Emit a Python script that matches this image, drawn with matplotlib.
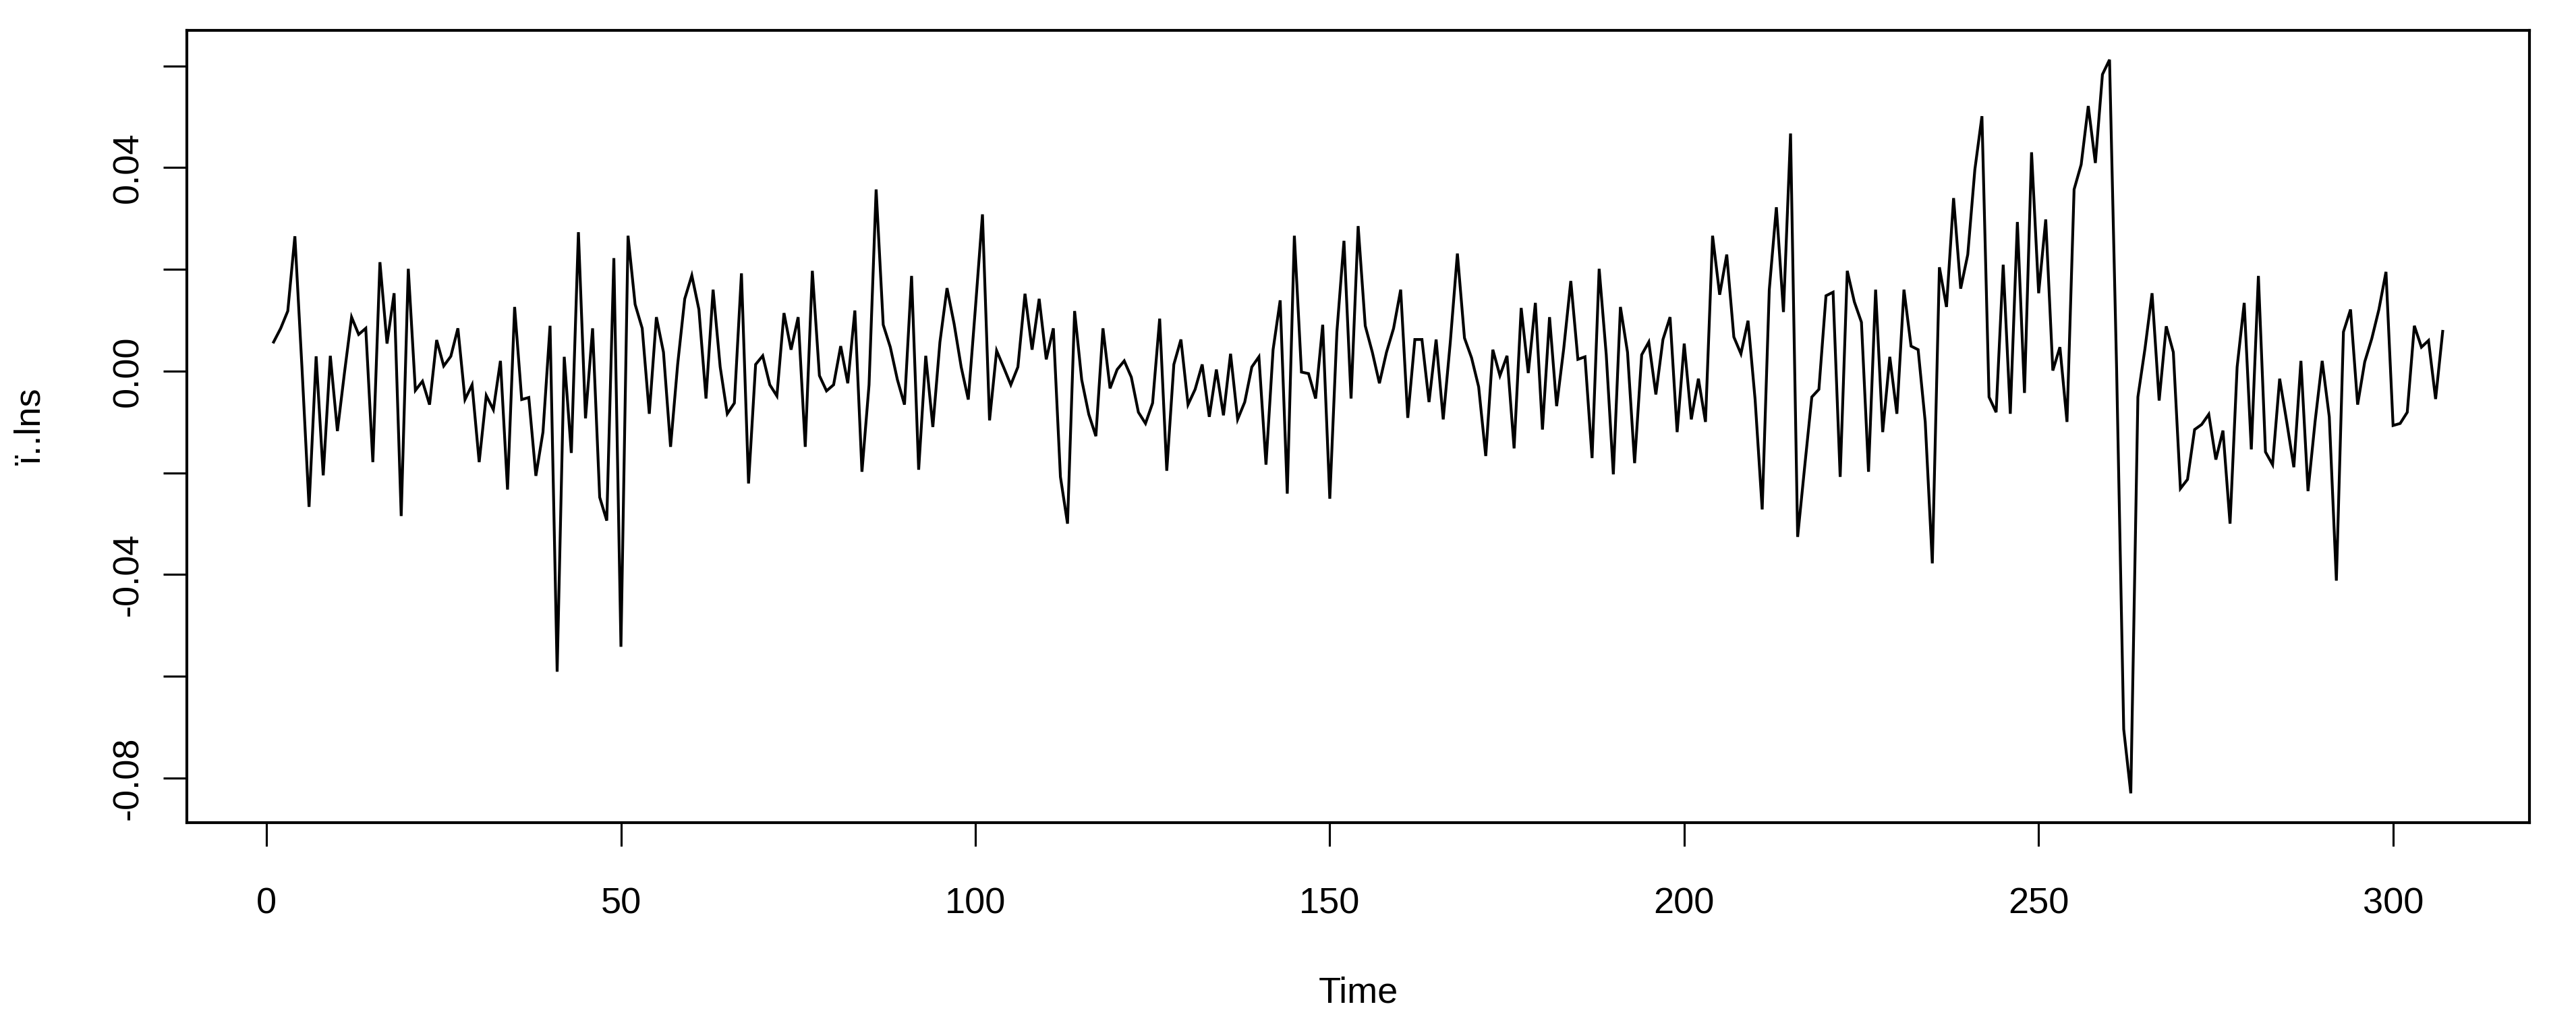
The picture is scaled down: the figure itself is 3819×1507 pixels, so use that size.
import matplotlib
matplotlib.use("Agg")
import matplotlib.pyplot as plt
from matplotlib.ticker import FixedLocator, FixedFormatter
import numpy as np

plt.rcParams['font.family'] = ['Liberation Sans', 'DejaVu Sans']
plt.rcParams['axes.unicode_minus'] = False

# Series values (time 1..307)
vals_001_030 = [0.0057, 0.0084, 0.0118, 0.0265, 0.0007, -0.0267, 0.0029, -0.0205, 0.0030, -0.0118,
                -0.0003, 0.0106, 0.0072, 0.0084, -0.0179, 0.0214, 0.0054, 0.0153, -0.0285, 0.0201,
                -0.0038, -0.0020, -0.0066, 0.0061, 0.0010, 0.0029, 0.0084, -0.0056, -0.0027, -0.0179]
vals_031_061 = [-0.0048, -0.0076, 0.0020, -0.0233, 0.0126, -0.0056, -0.0052, -0.0206, -0.0120, 0.0089,
                -0.0591, 0.0028, -0.0161, 0.0273, -0.0093, 0.0084, -0.0248, -0.0294, 0.0222, -0.0542,
                0.0266, 0.0131, 0.0084, -0.0084, 0.0106, 0.0037, -0.0149, 0.0013, 0.0142, 0.0188,
                0.0121]
vals_062_091 = [-0.0054, 0.0160, 0.0008, -0.0084, -0.0063, 0.0192, -0.0221, 0.0013, 0.0030, -0.0027,
                -0.0049, 0.0114, 0.0042, 0.0106, -0.0149, 0.0197, -0.0009, -0.0039, -0.0027, 0.0049,
                -0.0024, 0.0119, -0.0198, -0.0027, 0.0357, 0.0091, 0.0047, -0.0017, -0.0066, 0.0187]
vals_092_122 = [-0.0194, 0.0030, -0.0110, 0.0057, 0.0163, 0.0093, 0.0008, -0.0056, 0.0123, 0.0308,
                -0.0097, 0.0040, 0.0007, -0.0027, 0.0008, 0.0152, 0.0042, 0.0142, 0.0023, 0.0084,
                -0.0208, -0.0300, 0.0118, -0.0017, -0.0085, -0.0128, 0.0084, -0.0034, 0.0003, 0.0020,
                -0.0012]
vals_123_152 = [-0.0081, -0.0103, -0.0063, 0.0103, -0.0196, 0.0013, 0.0062, -0.0066, -0.0036, 0.0013,
                -0.0090, 0.0003, -0.0087, 0.0034, -0.0095, -0.0061, 0.0008, 0.0028, -0.0184, 0.0042,
                0.0139, -0.0241, 0.0266, -0.0002, -0.0005, -0.0054, 0.0091, -0.0251, 0.0077, 0.0256]
vals_153_182 = [-0.0054, 0.0285, 0.0089, 0.0037, -0.0024, 0.0037, 0.0084, 0.0160, -0.0092, 0.0062,
                0.0062, -0.0061, 0.0062, -0.0095, 0.0057, 0.0231, 0.0065, 0.0026, -0.0031, -0.0167,
                0.0042, -0.0009, 0.0030, -0.0152, 0.0124, -0.0004, 0.0134, -0.0115, 0.0106, -0.0069]
vals_183_213 = [0.0044, 0.0177, 0.0023, 0.0028, -0.0171, 0.0201, 0.0032, -0.0203, 0.0126, 0.0037,
                -0.0181, 0.0032, 0.0057, -0.0046, 0.0062, 0.0106, -0.0120, 0.0054, -0.0095, -0.0015,
                -0.0100, 0.0266, 0.0150, 0.0229, 0.0067, 0.0034, 0.0099, -0.0056, -0.0272, 0.0160,
                0.0322]
vals_214_243 = [0.0116, 0.0467, -0.0326, -0.0187, -0.0051, -0.0036, 0.0148, 0.0155, -0.0208, 0.0197,
                0.0136, 0.0096, -0.0198, 0.0160, -0.0120, 0.0028, -0.0084, 0.0160, 0.0049, 0.0042,
                -0.0100, -0.0378, 0.0204, 0.0126, 0.0340, 0.0162, 0.0229, 0.0396, 0.0501, -0.0051]
vals_244_274 = [-0.0081, 0.0209, -0.0084, 0.0293, -0.0043, 0.0430, 0.0153, 0.0298, 0.0001, 0.0047,
                -0.0100, 0.0357, 0.0406, 0.0521, 0.0409, 0.0583, 0.0612, 0.0003, -0.0704, -0.0830,
                -0.0051, 0.0044, 0.0153, -0.0058, 0.0088, 0.0037, -0.0231, -0.0213, -0.0115, -0.0105,
                -0.0085]
vals_275_307 = [-0.0174, -0.0117, -0.0300, 0.0008, 0.0134, -0.0154, 0.0187, -0.0159, -0.0184, -0.0015,
                -0.0100, -0.0189, 0.0020, -0.0236, -0.0099, 0.0020, -0.0090, -0.0412, 0.0077, 0.0121,
                -0.0066, 0.0018, 0.0064, 0.0121, 0.0195, -0.0107, -0.0103, -0.0081, 0.0089, 0.0047,
                0.0060, -0.0055, 0.0078]

series = (vals_001_030 + vals_031_061 + vals_062_091 + vals_092_122 + vals_123_152 +
          vals_153_182 + vals_183_213 + vals_214_243 + vals_244_274 + vals_275_307)
time = list(range(1, len(series) + 1))

x_ticks = [0, 50, 100, 150, 200, 250, 300]
x_ticklabels = ["0", "50", "100", "150", "200", "250", "300"]
y_ticks = [-0.08, -0.06, -0.04, -0.02, 0.00, 0.02, 0.04, 0.06]
y_ticklabels = ["-0.08", "", "-0.04", "", "0.00", "", "0.04", ""]

W, H = 3819, 1507
dpi = 300
fig = plt.figure(figsize=(W / dpi, H / dpi), dpi=dpi)
left, right, top, bottom = 277, 3750, 45, 1219
ax = fig.add_axes([left / W, 1 - bottom / H, (right - left) / W, (bottom - top) / H])

ax.plot(time, series, color='black', linewidth=1.0, solid_joinstyle='miter')

n = len(series)
span = n - 1
ax.set_xlim(1 - 0.04 * span, n + 0.04 * span)
ymin, ymax = min(series), max(series)
ys = ymax - ymin
ax.set_ylim(ymin - 0.04 * ys, ymax + 0.04 * ys)

ax.xaxis.set_major_locator(FixedLocator(x_ticks))
ax.xaxis.set_major_formatter(FixedFormatter(x_ticklabels))
ax.yaxis.set_major_locator(FixedLocator(y_ticks))
ax.yaxis.set_major_formatter(FixedFormatter(y_ticklabels))

for s in ax.spines.values():
    s.set_linewidth(1.0)
    s.set_color('black')

ax.tick_params(axis='both', direction='out', length=8.3, width=0.75, labelsize=13, colors='black')
ax.tick_params(axis='x', pad=14.5)
ax.tick_params(axis='y', pad=6.5, labelrotation=90)
for lab in ax.get_yticklabels():
    lab.set_va('center')

ax.set_xlabel("Time", fontsize=13, va='center')
ax.xaxis.set_label_coords(0.5, (bottom - 1471) / (bottom - top))
ax.set_ylabel("ï..lns", fontsize=13, va='center', ha='center', rotation_mode='default')
ax.yaxis.set_label_coords((45 - left) / (right - left), 0.5)

fig.savefig("out.png", dpi=dpi)
